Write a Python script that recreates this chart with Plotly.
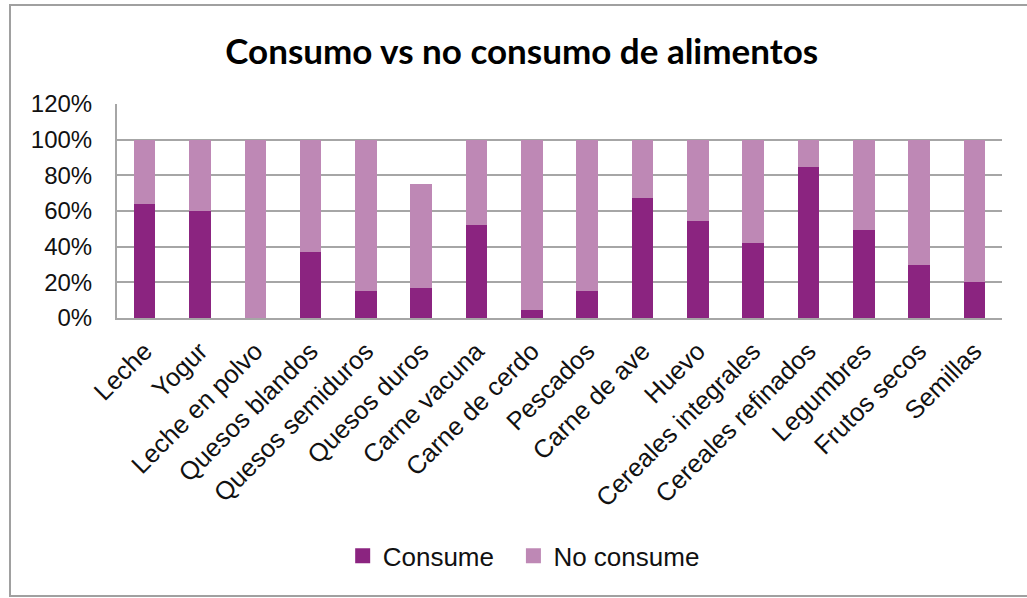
import plotly.graph_objects as go

# Food categories and share of respondents (fraction) who consume / do not consume each one
categorias = [
    "Leche", "Yogur", "Leche en polvo", "Quesos blandos", "Quesos semiduros",
    "Quesos duros", "Carne vacuna", "Carne de cerdo", "Pescados", "Carne de ave",
    "Huevo", "Cereales integrales", "Cereales refinados", "Legumbres",
    "Frutos secos", "Semillas",
]
consume = [0.64, 0.60, 0.00, 0.37, 0.15, 0.17, 0.52, 0.045, 0.15, 0.673,
           0.542, 0.42, 0.845, 0.495, 0.30, 0.20]
no_consume = [0.36, 0.40, 1.00, 0.63, 0.85, 0.58, 0.48, 0.955, 0.85, 0.327,
              0.458, 0.58, 0.155, 0.505, 0.70, 0.80]
series_names = ["Consume", "No consume"]

y_ticks = [0, 0.2, 0.4, 0.6, 0.8, 1.0, 1.2]
y_tick_labels = ["0%", "20%", "40%", "60%", "80%", "100%", "120%"]

COLOR_CONSUME = "#8B2480"
COLOR_NO = "#BE88B5"
GRID = "#A6A6A6"
FONT = "Liberation Sans, Arial, sans-serif"

fig = go.Figure()
for name, vals, col in zip(series_names, [consume, no_consume], [COLOR_CONSUME, COLOR_NO]):
    fig.add_trace(go.Bar(name=name, x=categorias, y=vals, showlegend=False,
                         legendgroup=name,
                         marker=dict(color=col, line=dict(width=0))))
    # legend entry with a larger square key
    fig.add_trace(go.Scatter(name=name + "  ", x=[None], y=[None], mode="markers",
                             legendgroup=name,
                             marker=dict(symbol="square", size=15, color=col)))

fig.update_layout(
    barmode="stack",
    bargap=0.61,
    width=1027, height=598,
    margin=dict(l=117, r=25, t=104, b=280),
    paper_bgcolor="white", plot_bgcolor="white",
    font=dict(family=FONT, size=23, color="#111111"),
    title=dict(text="<b>Consumo vs no consumo de alimentos</b>",
               font=dict(family="Lato, Carlito, sans-serif", size=35, color="#000000"),
               x=0.508, xanchor="center", y=0.913, yanchor="middle"),
    showlegend=True,
    legend=dict(orientation="h", x=0.468, xanchor="center", y=-1.112, yanchor="middle",
                font=dict(family=FONT, size=26, color="#111111"),
                traceorder="normal", itemwidth=30, itemsizing="trace"),
    hovermode=False,
)

fig.update_xaxes(
    tickangle=-45, ticks="", showgrid=False,
    showline=True, linecolor=GRID, linewidth=2,
    ticklabelstandoff=6,
    tickfont=dict(family=FONT, size=25.5, color="#111111"),
)
fig.update_yaxes(
    range=[0, 1.2], tickvals=y_ticks, ticktext=y_tick_labels,
    showgrid=True, gridcolor=GRID, gridwidth=2,
    showline=True, linecolor=GRID, linewidth=2,
    ticks="", ticklabelstandoff=18, zeroline=False,
    tickfont=dict(family=FONT, size=24, color="#111111"),
)

# Outer chart frame (left, top and bottom edges)
fig.add_shape(type="rect", xref="paper", yref="paper",
              x0=-107 / 885, x1=1.05, y0=-278 / 214, y1=1 + 99 / 214,
              line=dict(color="#A0A0A0", width=2), layer="below")

fig.write_html("out.html")
